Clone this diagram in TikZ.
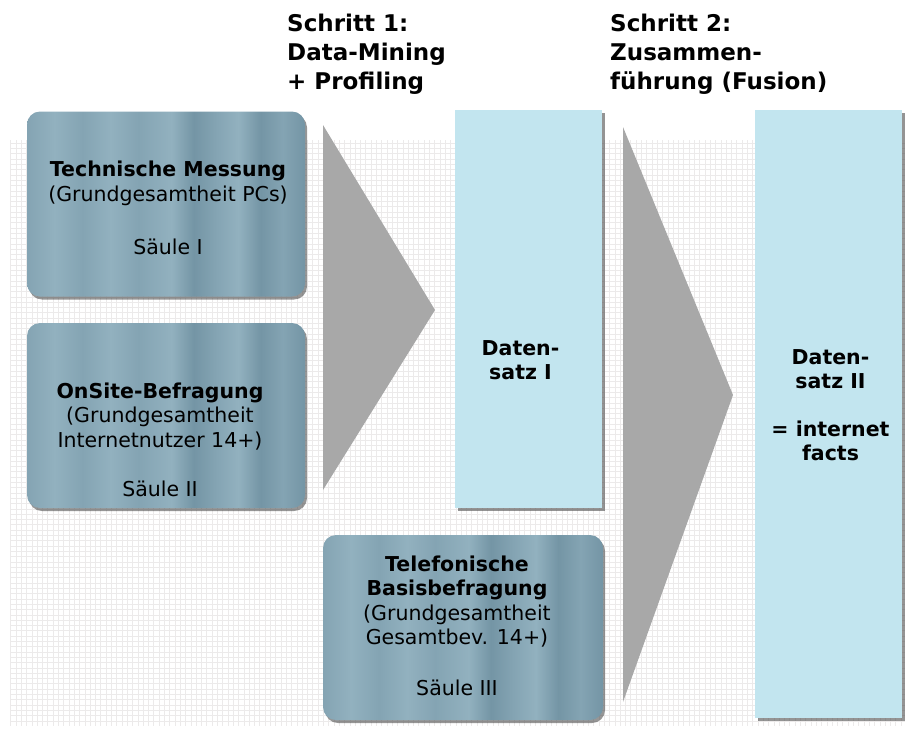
\documentclass[tikz,border=0pt]{standalone}
\usepackage{fontspec}
\setmainfont{DejaVu Sans}
\usetikzlibrary{shadows}

\definecolor{pillarlight}{RGB}{146,177,191}
\definecolor{pillarmid}{RGB}{132,164,179}
\definecolor{pillardark}{RGB}{116,149,165}
\definecolor{datablue}{RGB}{194,229,239}
\definecolor{gridgray}{RGB}{236,234,234}

% vertical bands of the stone pillars
\pgfdeclarehorizontalshading{pillarstripes}{100bp}{
   color(0bp)=(pillarmid); color(25bp)=(pillarmid);
   color(30bp)=(pillarlight); color(35bp)=(pillarmid);
   color(40bp)=(pillarlight); color(45bp)=(pillarmid);
   color(51bp)=(pillarlight); color(55bp)=(pillardark);
   color(59bp)=(pillarmid); color(63bp)=(pillarlight);
   color(67bp)=(pillardark); color(71bp)=(pillarmid);
   color(75bp)=(pillardark); color(100bp)=(pillardark)}

\begin{document}
\begin{tikzpicture} [
   x=1pt, y=-1pt,
   pillar/.style={rounded corners=13pt, shading=pillarstripes,
      minimum width=278pt, minimum height=185pt,
      drop shadow={shadow xshift=2pt, shadow yshift=-3pt, fill=black!75, opacity=.55}},
   pillartext/.style={align=center, font=\fontsize{20.5}{24.5}\selectfont},
   dataset/.style={fill=datablue, minimum width=147pt, inner sep=0pt,
      drop shadow={shadow xshift=3pt, shadow yshift=-3pt, fill=black!70, opacity=.6}},
   datatext/.style={align=center, font=\fontsize{20.5}{24.5}\selectfont\bfseries},
   funnel/.style={fill=black!34},
   heading/.style={anchor=north west, align=left, inner sep=0pt,
      font=\fontsize{23}{29}\selectfont\bfseries}
]
   \useasboundingbox (0,0) rectangle (909,729);
   \draw[gridgray, line width=.5pt] (10,140) grid[step=5.3pt] (905,726);

   % headings
   \node (step1) [heading] at (287,14) {Schritt 1:\\Data-Mining\\+ Profiling};
   \node (step2) [heading] at (610,14) {Schritt 2:\\Zusammen-\\führung (Fusion)};

   % the three pillars
   \node (p1) [pillar] at (166,204) {};
   \node (p2) [pillar] at (166,415.5) {};
   \node (p3) [pillar, minimum width=280pt] at (463,627.5) {};
   \node (t1) [pillartext] at ([shift={(2,4)}]p1)
      {\textbf{Technische Messung}\\(Grundgesamtheit PCs)\\[29pt]Säule I};
   \node (t2) [pillartext] at ([shift={(-6,24.5)}]p2)
      {\textbf{OnSite-Befragung}\\(Grundgesamtheit\\Internetnutzer 14+)\\[25pt]Säule II};
   \node (t3) [pillartext] at ([shift={(-6,-2)}]p3)
      {\textbf{Telefonische}\\\textbf{Basisbefragung}\\(Grundgesamtheit\\Gesamtbev. 14+)\\[26pt]Säule III};

   % funnels
   \coordinate (f1a) at (323,125);
   \coordinate (f1b) at (435,310);
   \coordinate (f1c) at (323,490);
   \coordinate (f2a) at (623,127);
   \coordinate (f2b) at (733,395);
   \coordinate (f2c) at (623,702);
   \fill[funnel] (f1a) -- (f1b) -- (f1c) -- cycle;
   \fill[funnel] (f2a) -- (f2b) -- (f2c) -- cycle;

   % data sets
   \node (d1) [dataset, minimum height=398pt] at (528.5,309) {};
   \node (d2) [dataset, minimum height=608pt] at (828.5,414) {};
   \node (d1text) [datatext] at ([shift={(-8,51)}]d1) {Daten-\\satz I};
   \node (d2text) [datatext] at ([shift={(2,-9)}]d2) {Daten-\\satz II\\[23pt]= internet\\facts};
\end{tikzpicture}
\end{document}
